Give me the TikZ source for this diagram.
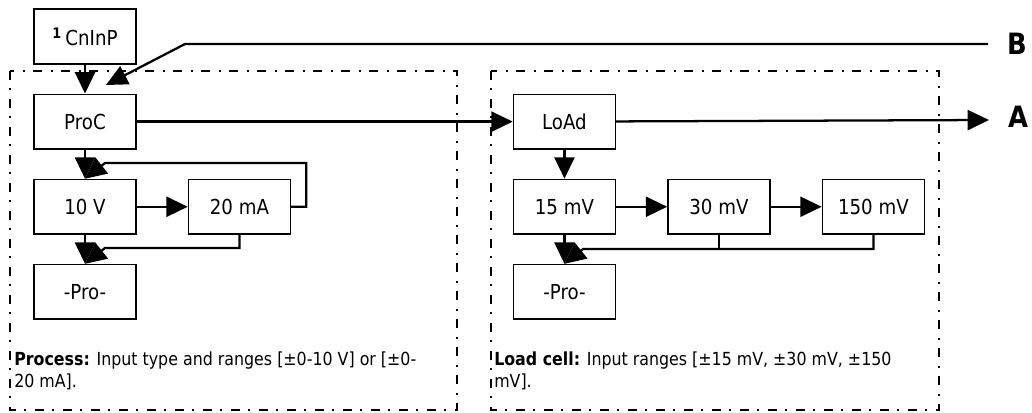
\documentclass[tikz,border=0pt]{standalone}
\usepackage{fontspec}
\setmainfont{DejaVu Sans}[FakeStretch=0.88]
\usetikzlibrary{arrows.meta,positioning}

\begin{document}
\begin{tikzpicture}[
      x=0.75pt, y=-0.75pt,
      node distance=21.75pt and 38.25pt,
      box/.style={draw,line width=1.1pt,align=center,minimum width=76.5pt,minimum height=41pt,inner sep=0pt,font=\fontsize{15.5}{18}\selectfont},
      arrow/.style={-{Triangle[length=16pt,width=15pt]},line width=1.7pt},
      wire/.style={line width=1.7pt},
      frame/.style={line width=1.3pt,dash pattern=on 6.75pt off 6pt on 1.5pt off 6.75pt},
      caption/.style={anchor=north west,align=left,inner sep=0pt,font=\fontsize{13.5}{16}\selectfont},
      lbl/.style={font=\fontsize{22}{26}\selectfont\bfseries}
    ]
      \useasboundingbox (0,0) rectangle (1032,413);
      % frames
      \draw[frame] (10,71) rectangle (457,410);
      \draw[frame] (491,71) rectangle (939,410);
      % process side
      \node[box] (cninp) at (85,36.5) {\textsuperscript{\textbf{1}}\,CnInP};
      \node[box,below=of cninp] (proc) {ProC};
      \node[box,below=of proc] (v10) {10 V};
      \node[box,right=of v10] (ma20) {20 mA};
      \node[box,below=of v10] (pro1) {-Pro-};
      % load cell side
      \node[box,right=282pt of proc] (load) {LoAd};
      \node[box,below=of load] (mv15) {15 mV};
      \node[box,right=of mv15] (mv30) {30 mV};
      \node[box,right=of mv30] (mv150) {150 mV};
      \node[box,below=of mv15] (pro2) {-Pro-};
      % outputs
      \node[lbl] (A) at (1018,117) {A};
      \node[lbl] (B) at (1017,44) {B};
      \coordinate (atip) at (989,120);
      \coordinate (bend) at (988,44);
      \coordinate (bknee) at (185,44);
      \coordinate (btip) at (106,85);
      \coordinate (loopin) at (105,163);
      \coordinate (mergel) at (105,248);
      \coordinate (merger) at (583,249);
      % connectors
      \draw[arrow] (cninp) -- (proc);
      \draw[arrow] (bend) -- (bknee) -- (btip);
      \draw[arrow] (proc) -- (load);
      \draw[arrow] (load) -- (atip);
      \draw[arrow] (proc) -- (v10);
      \draw[arrow] (v10) -- (ma20);
      \draw[arrow] (ma20.east) -- ++(15,0) |- (loopin) -- (v10.north);
      \draw[arrow] (v10) -- (pro1);
      \draw[arrow] (ma20.south) |- (mergel) -- (pro1.north);
      \draw[arrow] (load) -- (mv15);
      \draw[arrow] (mv15) -- (mv30);
      \draw[arrow] (mv30) -- (mv150);
      \draw[arrow] (mv15) -- (pro2);
      \draw[arrow] (mv150.south) |- (merger) -- (pro2.north);
      \draw[wire] (mv30.south) -- (mv30.south |- merger);
      % captions
      \node[caption] (capp) at (14,352) {\textbf{Process:} Input type and ranges [±0-10 V] or [±0-\\20 mA].};
      \node[caption] (capl) at (494,352) {\textbf{Load cell:} Input ranges [±15 mV, ±30 mV, ±150\\mV].};
    \end{tikzpicture}
\end{document}
